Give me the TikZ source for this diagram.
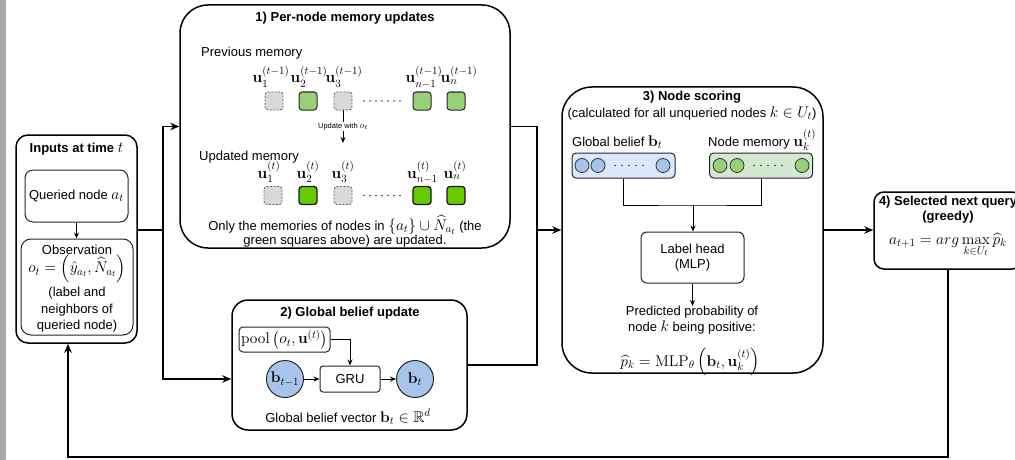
\RequirePackage{fix-cm}
\documentclass[tikz,border=0pt]{standalone}
\usepackage{amsmath,amssymb}
\usepackage[no-math]{fontspec}
\setmainfont{Liberation Sans}
\usetikzlibrary{arrows.meta}
\DeclareMathSizes{13}{15.5}{11}{8.5}
\DeclareMathSizes{7.5}{9}{6.5}{5}

\definecolor{sqgray}{HTML}{D9D9D9}
\definecolor{gprev}{HTML}{97D077}
\definecolor{gnew}{HTML}{66CC00}
\definecolor{bcirc}{HTML}{A9C4EB}
\definecolor{bbar}{HTML}{DAE8FC}
\definecolor{gbar}{HTML}{D5E8D4}
\definecolor{strip}{HTML}{A4ABA3}

\begin{document}
\begin{tikzpicture}[x=1pt,y=-1pt,
  font=\fontsize{13}{15.5}\selectfont,
  outer/.style={draw=black, line width=1.5pt, inner sep=0pt},
  inbox/.style={draw=black!85, line width=1pt, inner sep=2pt, align=center},
  link/.style={line width=1.5pt, -{Stealth[length=9pt,width=7.5pt]}},
  wire/.style={line width=1.5pt},
  finearrow/.style={line width=1pt, -{Stealth[length=6pt,width=5pt]}},
  fineline/.style={line width=1pt},
  title/.style={font=\fontsize{13}{15.5}\selectfont\bfseries, inner sep=0pt, align=center},
  txt/.style={inner sep=0pt, align=center},
  oldsq/.style={draw=black!60, dash pattern=on 2pt off 1.5pt, fill=sqgray, line width=0.9pt,
                minimum size=18pt, rounded corners=3pt, inner sep=0pt},
  prevsq/.style={draw=black!85, fill=gprev, line width=1pt, minimum size=18pt,
                 rounded corners=3pt, inner sep=0pt},
  newsq/.style={draw=black!90, fill=gnew, line width=1.3pt, minimum size=18pt,
                rounded corners=3pt, inner sep=0pt},
  belief/.style={circle, draw=black!85, fill=bcirc, line width=1pt, minimum size=37pt, inner sep=0pt},
  bar/.style={draw=black!85, line width=1pt, rounded corners=4pt, minimum width=103pt,
              minimum height=25pt, inner sep=0pt},
  cell/.style={circle, draw=black!80, line width=0.8pt, minimum size=14pt, inner sep=0pt},
  lab/.style={inner sep=0pt, anchor=base}
]
\clip (0,0) rectangle (1015,460);
\fill[white] (0,0) rectangle (1015,460);
\fill[strip] (0,0) rectangle (6,460);

% ---------- Inputs at time t ----------
\node[outer, rounded corners=12pt, minimum width=121pt, minimum height=208pt] (inp) at (76.5,239) {};
\node[title] (inpT) at (76.5,149) {Inputs at time $t$};
\node[inbox, rounded corners=8pt, minimum width=103pt, minimum height=52pt] (qry) at (76.5,196) {Queried node $a_t$};
\node[inbox, rounded corners=10pt, minimum width=112pt, minimum height=96pt] (obs) at (77,287) {};
\node[txt] (obsA) at (77,250) {Observation};
\node[txt] (obsF) at (77,269) {$o_t=\left(\hat y_{a_t},\widehat N_{a_t}\right)$};
\node[txt, font=\fontsize{13}{16.5}\selectfont] (obsB) at (77,310) {(label and\\ neighbors of\\ queried node)};
\draw[finearrow] (qry.south) -- (qry.south |- obs.north);

% ---------- 1) Per-node memory updates ----------
\node[outer, rounded corners=28pt, minimum width=330pt, minimum height=243pt] (mem) at (345,126.5) {};
\node[title] (memT) at (345,18) {1) Per-node memory updates};
\node[txt, anchor=west] (prevT) at (201,53) {Previous memory};

\node[oldsq]  (p1)  at (274,101) {};
\node[prevsq] (p2)  at (308,101) {};
\node[oldsq]  (p3)  at (343,101) {};
\node[prevsq] (pn1) at (422,101) {};
\node[prevsq] (pn)  at (456,101) {};
\foreach \i in {0,...,6} \fill[black!75] (364+6*\i,101) circle (0.8pt);
\node[lab] (lp1)  at (271,83) {$\mathbf u_1^{(t-1)}$};
\node[lab] (lp2)  at (309,83) {$\mathbf u_2^{(t-1)}$};
\node[lab] (lp3)  at (344,83) {$\mathbf u_3^{(t-1)}$};
\node[lab] (lpn1) at (424,83) {$\mathbf u_{n-1}^{(t-1)}$};
\node[lab] (lpn)  at (459,83) {$\mathbf u_n^{(t-1)}$};

\coordinate (updEnd) at (343,143);
\draw[finearrow] (p3.south) -- (updEnd)
  node[midway, fill=white, inner sep=1pt, font=\fontsize{7.5}{9}\selectfont] (updL) {Update with $o_t$};

\node[txt, anchor=west] (newT) at (199,157) {Updated memory};
\node[oldsq] (q1)  at (273,195.5) {};
\node[newsq] (q2)  at (308,195.5) {};
\node[oldsq] (q3)  at (343,195.5) {};
\node[newsq] (qn1) at (422,195.5) {};
\node[newsq] (qn)  at (456,195.5) {};
\foreach \i in {0,...,6} \fill[black!75] (364+6*\i,195.5) circle (0.8pt);
\node[lab] (lq1)  at (269,178) {$\mathbf u_1^{(t)}$};
\node[lab] (lq2)  at (308,178) {$\mathbf u_2^{(t)}$};
\node[lab] (lq3)  at (343,178) {$\mathbf u_3^{(t)}$};
\node[lab] (lqn1) at (422.5,178) {$\mathbf u_{n-1}^{(t)}$};
\node[lab] (lqn)  at (455,178) {$\mathbf u_n^{(t)}$};

\node[txt, font=\fontsize{13}{14}\selectfont] (memNote) at (345,231)
  {Only the memories of nodes in $\{a_t\}\cup\widehat N_{a_t}$ (the\\green squares above) are updated.};

% ---------- 2) Global belief update ----------
\node[outer, rounded corners=16pt, minimum width=235pt, minimum height=130pt] (glob) at (349.5,365) {};
\node[title] (globT) at (350,313) {2) Global belief update};
\node[inbox, rounded corners=4pt, minimum width=91pt, minimum height=25pt, inner sep=1pt] (pool) at (284.5,339.5)
  {$\operatorname{pool}\left(o_t,\mathbf u^{(t)}\right)$};
\node[inbox, rounded corners=3pt, minimum width=60pt, minimum height=26pt] (gru) at (350,379) {GRU};
\node[belief] (bprev) at (285,379) {$\mathbf b_{t-1}$};
\node[belief] (bnew)  at (415,379) {$\mathbf b_t$};
\draw[finearrow] (pool.east) -| (gru.north);
\draw[finearrow] (bprev) -- (gru);
\draw[finearrow] (gru) -- (bnew);
\node[txt] (globNote) at (348,417) {Global belief vector $\mathbf b_t\in\mathbb R^d$};

% ---------- 3) Node scoring ----------
\node[outer, rounded corners=30pt, minimum width=261pt, minimum height=286pt] (score) at (692.5,230) {};
\node[title] (scoreT) at (692,97) {3) Node scoring};
\node[txt] (scoreSub) at (692,113) {(calculated for all unqueried nodes $k\in U_t$)};
\node[inner sep=0pt, anchor=base west] (gbT) at (572,146) {Global belief $\mathbf b_t$};
\node[inner sep=0pt, anchor=base west] (nmT) at (708,146) {Node memory $\mathbf u_k^{(t)}$};

\node[bar, fill=bbar] (bbarN) at (623.5,165.5) {};
\node[bar, fill=gbar] (gbarN) at (761,165.5) {};
\node[cell, fill=bcirc] (bc1) at (582,165.5) {};
\node[cell, fill=bcirc] (bc2) at (598,165.5) {};
\node[cell, fill=bcirc] (bc3) at (663,165.5) {};
\foreach \i in {0,...,4} \fill[black!75] (615+7*\i,165.5) circle (0.8pt);
\node[cell, fill=gprev] (gc1) at (720,165.5) {};
\node[cell, fill=gprev] (gc2) at (737,165.5) {};
\node[cell, fill=gprev] (gc3) at (802,165.5) {};
\foreach \i in {0,...,4} \fill[black!75] (754+7*\i,165.5) circle (0.8pt);

\coordinate (merge) at (693,205);
\draw[fineline] (bbarN.south) |- (merge) -| (gbarN.south);
\node[inbox, rounded corners=6pt, minimum width=103pt, minimum height=51pt] (head) at (692.5,257.5) {Label head\\(MLP)};
\draw[finearrow] (merge) -- (merge |- head.north);
\node[txt] (pred) at (692,320) {Predicted probability of\\node $k$ being positive:};
\draw[finearrow] (head.south) -- (head.south |- pred.north);
\node[inner sep=0pt, anchor=base] (scoreF) at (690,366) {$\widehat p_k=\mathrm{MLP}_\theta\left(\mathbf b_t,\mathbf u_k^{(t)}\right)$};

% ---------- 4) Selected next query ----------
\node[outer, rounded corners=10pt, minimum width=148pt, minimum height=77pt] (pick) at (948,230.5) {};
\node[title] (pickT) at (948,209.5) {4) Selected next query\\(greedy)};
\node[inner sep=0pt, anchor=base] (pickF) at (948,244) {$a_{t+1}=arg\max\limits_{k\in U_t}\widehat p_k$};

% ---------- connectors ----------
\coordinate (fork) at (163,230);
\coordinate (join) at (537,230);
\coordinate (loopL) at (68,457);
\draw[wire] (inp.east |- fork) -- (fork);
\draw[link] (fork) |- (mem.west);
\draw[link] (fork) |- (glob.west |- gru);
\draw[wire] (mem.east) -| (join);
\draw[wire] (glob.east) -| (join);
\draw[link] (join) -- (join -| score.west);
\draw[link] (score.east) -- (score.east -| pick.west);
\draw[link] (pick.south) |- (loopL) -- (loopL |- inp.south);
\end{tikzpicture}
\end{document}
